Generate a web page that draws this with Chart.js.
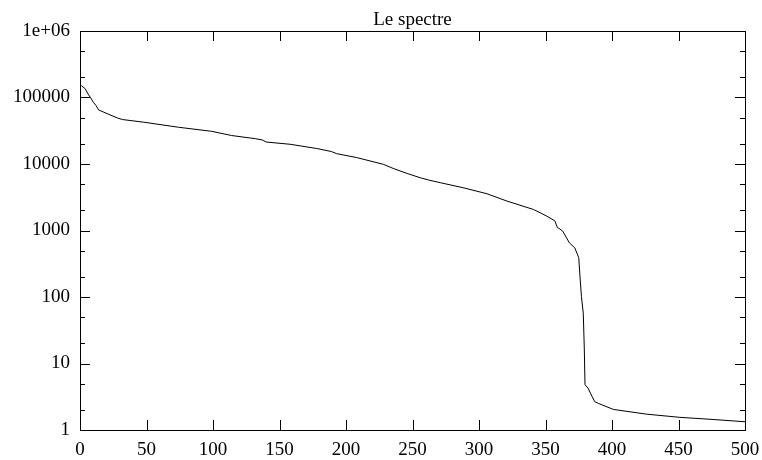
<!DOCTYPE html>
<html>
<head>
<meta charset="utf-8">
<script src="https://cdn.jsdelivr.net/npm/chart.js@4/dist/chart.umd.min.js"></script>
<style>
  html, body { margin: 0; padding: 0; background: #fff; }
  #wrap { width: 762px; height: 460px; }
</style>
</head>
<body>
<div id="wrap"><canvas id="spectreChart" width="762" height="460"></canvas></div>
<script>
// Spectrum values (index -> value, log scale)
const specIndex = [1, 4, 6, 8, 10, 12, 14, 18, 28, 32, 48, 74, 99, 114, 132, 137, 140, 158, 178, 189, 193, 208, 228, 236, 246, 256, 262, 271, 288, 306, 321, 341, 346, 351, 357, 359, 360, 363, 368, 372, 375, 376, 377, 378.4, 379.2, 379.7, 382, 385, 387, 390, 401, 426, 451, 476, 500];
const specValue = [151000, 135000, 113000, 99000, 85000, 76000, 65000, 60000, 49300, 46600, 42500, 35700, 31000, 26800, 24000, 23000, 21400, 19800, 17100, 15400, 14300, 12500, 9900, 8500, 7200, 6200, 5750, 5230, 4400, 3570, 2770, 2070, 1850, 1640, 1400, 1100, 1080, 975, 650, 550, 390, 194, 102, 57, 16, 4.8, 4.25, 3.2, 2.67, 2.5, 2.04, 1.73, 1.55, 1.44, 1.33];

const xTickValues = [0, 50, 100, 150, 200, 250, 300, 350, 400, 450, 500];
const yMajorTicks = [1, 10, 100, 1000, 10000, 100000, 1000000];
const yTickLabels = ['1', '10', '100', '1000', '10000', '100000', '1e+06'];
const yMinorTicks = [2, 5, 20, 50, 200, 500, 2000, 5000, 20000, 50000, 200000, 500000];

const plotFont = { family: '"Liberation Serif", "DejaVu Serif", serif', size: 19 };

// frame, inward tick marks (mirrored) and title
const framePlugin = {
    id: 'gnuplotFrame',
    afterDraw(chart) {
        const ctx = chart.ctx;
        const area = chart.chartArea;
        const xs = chart.scales.x;
        const ys = chart.scales.y;
        ctx.save();
        ctx.strokeStyle = '#000';
        ctx.lineWidth = 1;
        ctx.beginPath();
        xTickValues.forEach(v => {
            const px = Math.round(xs.getPixelForValue(v)) + 0.5;
            ctx.moveTo(px, area.bottom);
            ctx.lineTo(px, area.bottom - 10);
            ctx.moveTo(px, area.top);
            ctx.lineTo(px, area.top + 10);
        });
        yMajorTicks.forEach(v => {
            const py = Math.round(ys.getPixelForValue(v)) + 0.5;
            ctx.moveTo(area.left, py);
            ctx.lineTo(area.left + 10, py);
            ctx.moveTo(area.right, py);
            ctx.lineTo(area.right - 10, py);
        });
        yMinorTicks.forEach(v => {
            const py = Math.round(ys.getPixelForValue(v)) + 0.5;
            ctx.moveTo(area.left, py);
            ctx.lineTo(area.left + 5, py);
            ctx.moveTo(area.right, py);
            ctx.lineTo(area.right - 5, py);
        });
        ctx.stroke();
        ctx.strokeRect(area.left + 0.5, area.top + 0.5, area.right - area.left, area.bottom - area.top);

        ctx.fillStyle = '#000';
        ctx.font = plotFont.size + 'px ' + plotFont.family;
        ctx.textAlign = 'center';
        ctx.textBaseline = 'alphabetic';
        ctx.fillText('Le spectre', (area.left + area.right) / 2, 25);
        ctx.restore();
    }
};

function initializeSpectreChart() {
    const ctx = document.getElementById('spectreChart').getContext('2d');
    new Chart(ctx, {
        type: 'line',
        data: {
            datasets: [{
                label: 'spectre',
                data: specIndex.map((x, i) => ({ x: x, y: specValue[i] })),
                borderColor: '#000',
                borderWidth: 1,
                pointRadius: 0,
                tension: 0,
                fill: false
            }]
        },
        options: {
            responsive: false,
            animation: false,
            devicePixelRatio: 1,
            layout: { padding: { top: 31, right: 17, left: 0, bottom: 0 } },
            plugins: {
                legend: { display: false },
                title: { display: false },
                tooltip: { enabled: false }
            },
            scales: {
                x: {
                    type: 'linear',
                    min: 0,
                    max: 500,
                    afterBuildTicks: scale => {
                        scale.ticks = xTickValues.map(v => ({ value: v }));
                    },
                    afterFit: scale => {
                        scale.height = 30;
                        scale.paddingLeft = 0;
                        scale.paddingRight = 0;
                    },
                    grid: { display: false, drawTicks: false },
                    border: { display: false },
                    ticks: {
                        color: '#000',
                        font: plotFont,
                        padding: 9,
                        maxRotation: 0,
                        autoSkip: false
                    }
                },
                y: {
                    type: 'logarithmic',
                    min: 1,
                    max: 1000000,
                    afterBuildTicks: scale => {
                        scale.ticks = yMajorTicks.map(v => ({ value: v }));
                    },
                    afterFit: scale => {
                        scale.width = 80;
                        scale.paddingTop = 0;
                        scale.paddingBottom = 0;
                    },
                    grid: { display: false, drawTicks: false },
                    border: { display: false },
                    ticks: {
                        color: '#000',
                        font: plotFont,
                        padding: 10,
                        autoSkip: false,
                        callback: value => {
                            const i = yMajorTicks.indexOf(value);
                            return i >= 0 ? yTickLabels[i] : '';
                        }
                    }
                }
            }
        },
        plugins: [framePlugin]
    });
}

document.addEventListener('DOMContentLoaded', function() {
    initializeSpectreChart();
});
</script>
</body>
</html>
